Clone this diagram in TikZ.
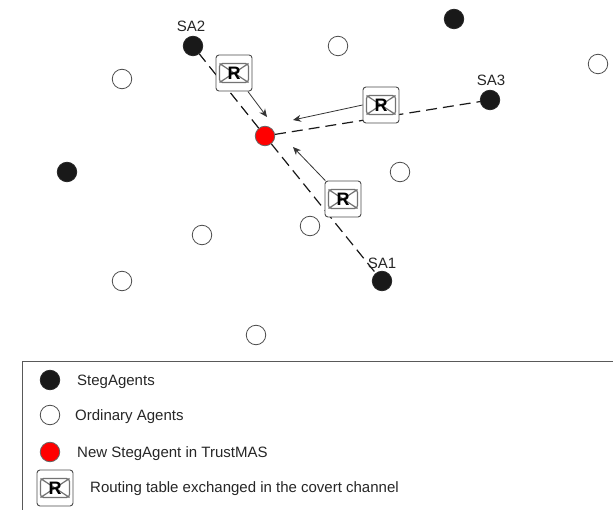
\documentclass[tikz,border=0pt]{standalone}
\usepackage{fontspec}
\setmainfont{Liberation Sans}
\usetikzlibrary{arrows.meta,calc}
\tikzset{
  x=1pt,y=-1pt,
  agent/.style={circle,minimum size=19.5pt,inner sep=0pt,line width=0.8pt},
  steg/.style={agent,draw=black!85,fill=black!90},
  ordinary/.style={agent,draw=black!70,fill=white},
  newsteg/.style={agent,draw=black!60,fill=red},
  rtable/.style={draw=black!70,line width=0.9pt,rounded corners=3pt,fill=white,minimum size=36pt,inner sep=0pt,
    font=\fontsize{18}{18}\selectfont\bfseries,
    path picture={\draw[black!55,line width=1.2pt]
      ($(path picture bounding box.center)+(-14.5,-9.5)$) rectangle ($(path picture bounding box.center)+(14.5,9.5)$)
      ($(path picture bounding box.center)+(-14.5,-9.5)$) -- ($(path picture bounding box.center)+(14.5,9.5)$)
      ($(path picture bounding box.center)+(-14.5,9.5)$) -- ($(path picture bounding box.center)+(14.5,-9.5)$);}},
  covert/.style={line width=1.2pt,black!90,dash pattern=on 11pt off 6pt},
  sent/.style={line width=0.8pt,black!80,-{Stealth[length=8pt,width=7pt]}},
  lbl/.style={font=\fontsize{15}{17}\selectfont,text=black!85,inner sep=0pt},
  legendline/.style={draw=black!65,line width=0.8pt}
}
\begin{document}
\begin{tikzpicture}
\useasboundingbox (0,0) rectangle (613,510);
\node[steg] (sa2) at (193,46) {};
\node[ordinary] (o1) at (338,46) {};
\node[steg] (b1) at (454,19) {};
\node[ordinary] (o2) at (598,64) {};
\node[ordinary] (o3) at (122,79) {};
\node[steg] (sa3) at (490,100) {};
\node[newsteg] (new) at (265,136) {};
\node[ordinary] (o4) at (400,172) {};
\node[steg] (b2) at (67,172) {};
\node[ordinary] (o5) at (202,235) {};
\node[ordinary] (o6) at (310,226) {};
\node[steg] (sa1) at (382,281) {};
\node[ordinary] (o7) at (122,281) {};
\node[ordinary] (o8) at (256,335) {};
\draw[covert] (new) -- (sa2);
\draw[covert] (new) -- (sa3);
\draw[covert] (new) -- (sa1);
\node[rtable] (r1) at (234,73) {R};
\node[rtable] (r2) at (381,105) {R};
\node[rtable] (r3) at (343,199) {R};
\coordinate (t1) at (267,117);
\coordinate (t2) at (293,120);
\coordinate (t3) at (293,147);
\draw[sent] (r1) -- (t1);
\draw[sent] (r2.west) -- (t2);
\draw[sent] (r3) -- (t3);
\node[lbl] (l2) at (191,26) {SA2};
\node[lbl] (l3) at (491,80) {SA3};
\node[lbl] (l1) at (382,263) {SA1};
\coordinate (lg1) at (22,510);
\coordinate (lg2) at (22,361);
\coordinate (lg3) at (613,361);
\draw[legendline] (lg1) -- (lg2) -- (lg3);
\node[steg] (k1) at (50,380) {};
\node[ordinary] (k2) at (50,415) {};
\node[newsteg] (k3) at (50,452) {};
\node[rtable] (k4) at (55,488) {R};
\node[lbl,anchor=base west] (t1a) at (77,385) {StegAgents};
\node[lbl,anchor=base west] (t2a) at (75,420) {Ordinary Agents};
\node[lbl,anchor=base west] (t3a) at (77,457) {New StegAgent in TrustMAS};
\node[lbl,anchor=base west] (t4a) at (90,492) {Routing table exchanged in the covert channel};
\end{tikzpicture}
\end{document}
